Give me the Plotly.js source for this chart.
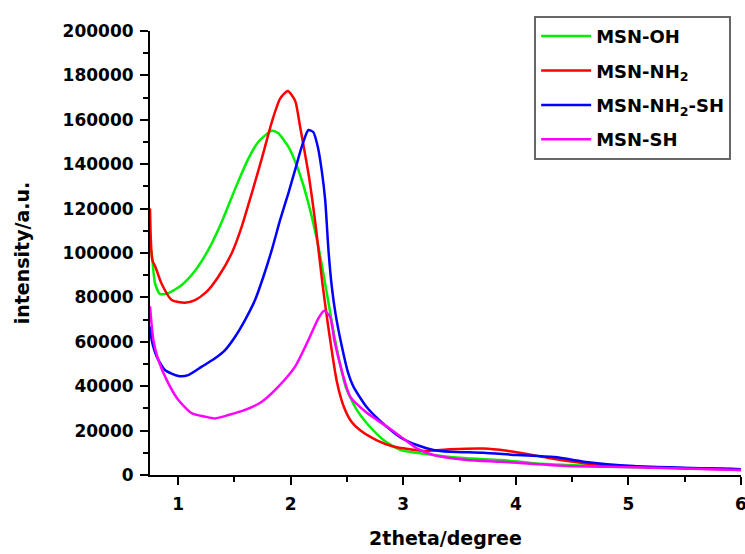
<!DOCTYPE html>
<html>
<head>
<meta charset="utf-8">
<script src="https://cdn.plot.ly/plotly-3.0.1.min.js"></script>
<style>html,body{margin:0;padding:0;background:#fff;}</style>
</head>
<body>
<div id="chart" style="width:745px;height:554px;"></div>
<script>
// Series names
const seriesNames = ['MSN-OH', 'MSN-NH<sub>2</sub>', 'MSN-NH<sub>2</sub>-SH', 'MSN-SH'];

// MSN-OH (green)
const xOH = [0.75, 0.765, 0.794, 0.839, 0.913, 1.032, 1.15, 1.268, 1.387, 1.507, 1.624, 1.713, 1.832, 1.89, 1.979, 2.068, 2.157, 2.246, 2.321, 2.394, 2.49, 2.587, 2.676, 2.824, 2.972, 3.268, 3.565, 3.861, 4.154, 4.454, 5.043, 6.0];
const yOH = [103000, 99900, 86400, 81500, 81900, 85600, 92000, 101400, 114000, 129000, 142500, 150100, 155100, 153900, 147900, 137400, 122400, 102800, 81900, 60800, 39500, 29300, 23300, 15800, 11300, 9000, 7500, 6800, 5300, 4500, 3500, 2600];

// MSN-NH2 (red)
const xNH2 = [0.75, 0.77, 0.8, 0.85, 0.943, 1.061, 1.15, 1.254, 1.357, 1.476, 1.565, 1.654, 1.743, 1.832, 1.906, 1.974, 2.04, 2.083, 2.16, 2.22, 2.28, 2.33, 2.41, 2.47, 2.54, 2.62, 2.77, 2.91, 3.0, 3.18, 3.417, 3.713, 3.921, 4.098, 4.306, 4.602, 5.046, 6.0];
const yNH2 = [120000, 97000, 93500, 86500, 78800, 77600, 78800, 82600, 89300, 99900, 111900, 126900, 142500, 159000, 169500, 173000, 168500, 157000, 135000, 113000, 87000, 68000, 42000, 31000, 24000, 20000, 15500, 12800, 12000, 10800, 11600, 11900, 10900, 9500, 7500, 5300, 3800, 2300];

// MSN-NH2-SH (blue)
const xNH2SH = [0.75, 0.765, 0.81, 0.883, 1.002, 1.09, 1.21, 1.328, 1.417, 1.506, 1.594, 1.683, 1.757, 1.832, 1.906, 1.979, 2.039, 2.098, 2.157, 2.2, 2.24, 2.276, 2.306, 2.335, 2.365, 2.4, 2.454, 2.51, 2.557, 2.676, 2.824, 2.972, 3.12, 3.268, 3.417, 3.713, 4.01, 4.2, 4.365, 4.602, 5.046, 6.0];
const yNH2SH = [67000, 60800, 53300, 47300, 44600, 45000, 48800, 52600, 56300, 62300, 69800, 78800, 89300, 101400, 114900, 126900, 137400, 147900, 155400, 154500, 148000, 137000, 124000, 101500, 84800, 72000, 58000, 46000, 39800, 30500, 23000, 17000, 13500, 11300, 10500, 10000, 9000, 8600, 8000, 6000, 4000, 2600];

// MSN-SH (magenta)
const xSH = [0.75, 0.78, 0.824, 0.913, 1.002, 1.121, 1.239, 1.328, 1.446, 1.594, 1.743, 1.89, 2.039, 2.157, 2.246, 2.297, 2.35, 2.39, 2.46, 2.528, 2.676, 2.854, 2.972, 3.12, 3.268, 3.565, 3.861, 4.157, 4.454, 5.046, 6.0];
const ySH = [76000, 60800, 51800, 41300, 33800, 27800, 26300, 25500, 27000, 29300, 33000, 39800, 48800, 60800, 70600, 74000, 71300, 60000, 45800, 35300, 28000, 21800, 17500, 12000, 9000, 6800, 6000, 5000, 4100, 3500, 2300];

const xs = [xOH, xNH2, xNH2SH, xSH];
const ys = [yOH, yNH2, yNH2SH, ySH];
const colors = ['#00ee00', '#ff0000', '#0000ff', '#ff00ff'];

const FONT = 'DejaVu Sans, Arial, sans-serif';

const traces = seriesNames.map((n, i) => ({
  type: 'scatter',
  mode: 'lines',
  name: n,
  x: xs[i],
  y: ys[i],
  legendgroup: 'g' + i,
  line: {color: colors[i], width: 2.5, shape: 'spline', smoothing: 0.6}
}));

const axisCommon = {
  showline: true, linecolor: '#000', linewidth: 2,
  ticks: 'outside', ticklen: 8, tickwidth: 2, tickcolor: '#000',
  showgrid: false, zeroline: false, mirror: false,
  ticklabeloverflow: 'allow',
  tickfont: {family: FONT, size: 17, color: '#000', weight: 'bold'}
};

const layout = {
  width: 745, height: 554,
  margin: {l: 150, r: 4, t: 31, b: 79, pad: 0},
  paper_bgcolor: '#fff', plot_bgcolor: '#fff',
  showlegend: true,
  xaxis: Object.assign({}, axisCommon, {
    range: [0.75, 6], tick0: 0, dtick: 1,
    ticklabelstandoff: 5,
    minor: {ticks: 'outside', ticklen: 5, tickwidth: 2, tickcolor: '#000', dtick: 0.5, showgrid: false},
    title: {text: '2theta/degree', font: {family: FONT, size: 19, color: '#000', weight: 'bold'}, standoff: 18}
  }),
  yaxis: Object.assign({}, axisCommon, {
    range: [0, 200000], tick0: 0, dtick: 20000, tickformat: 'd',
    ticklabelstandoff: 3,
    minor: {ticks: 'outside', ticklen: 5, tickwidth: 2, tickcolor: '#000', dtick: 10000, showgrid: false},
    title: {text: 'intensity/a.u.', font: {family: FONT, size: 19, color: '#000', weight: 'bold'}, standoff: 28}
  }),
  legend: {
    x: 0.65, y: 1.034, xanchor: 'left', yanchor: 'top',
    bgcolor: '#fff', bordercolor: '#666', borderwidth: 2,
    font: {family: FONT, size: 18, color: '#000', weight: 'bold'},
    itemwidth: 50, tracegroupgap: 8, traceorder: 'grouped'
  }
};

Plotly.newPlot('chart', traces, layout, {displayModeBar: false, staticPlot: true});
</script>
</body>
</html>
